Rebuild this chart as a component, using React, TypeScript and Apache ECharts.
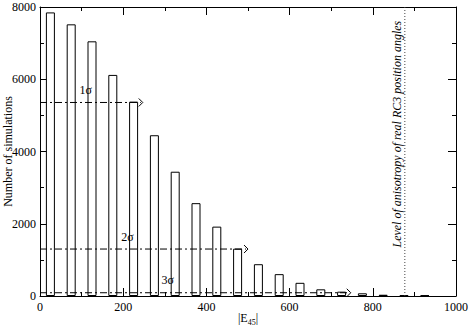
import React, { useEffect, useRef } from "react";
import * as echarts from "echarts";

const binCenters = [25, 75, 125, 175, 225, 275, 325, 375, 425, 475, 525, 575, 625, 675, 725, 775, 825, 875, 925];
const counts = [7850, 7520, 7050, 6120, 5380, 4450, 3440, 2570, 1920, 1310, 880, 605, 365, 185, 120, 75, 35, 20, 20];

const xTicks = { min: 0, max: 1000, interval: 200 };
const yTicks = { min: 0, max: 8000, interval: 2000 };

// sigma levels: [y level, x end (arrow tip), label, label x, label y]
const sigmaLevels: [number, number, string, number, number][] = [
  [5357, 247, "1σ", 110, 5690],
  [1300, 500, "2σ", 210, 1620],
  [90, 747, "3σ", 307, 440],
];

const anisotropyLevel = 877;
const anisotropyLabel = "Level of anisotropy of real RC3 position angles";

const FONT = "Liberation Serif";

export default function App() {
  const ref = useRef<HTMLDivElement>(null);
  useEffect(() => {
    if (!ref.current) return;
    const chart = echarts.init(ref.current, undefined, { renderer: "svg" });
    const axisCommon = {
      type: "value" as const,
      axisLine: { show: true, onZero: false, lineStyle: { color: "#000", width: 1 } },
      axisTick: { show: true, inside: true, length: 8, lineStyle: { color: "#000" } },
      minorTick: { show: true, splitNumber: 2, length: 4, lineStyle: { color: "#000" } },
      splitLine: { show: false },
      minorSplitLine: { show: false },
    };
    const fmt = (v: number) => String(v);
    const option: any = {
      animation: false,
      backgroundColor: "#fff",
      grid: { left: 40, right: 13, top: 7, bottom: 31, containLabel: false, outerBoundsMode: "none" },
      xAxis: [
        {
          ...axisCommon,
          position: "bottom",
          ...xTicks,
          axisLabel: { color: "#000", fontFamily: FONT, fontSize: 12, margin: 5, formatter: fmt },
          name: "|E{sub|45}|",
          nameLocation: "middle",
          nameGap: 14,
          nameMoveOverlap: false,
          nameTextStyle: {
            color: "#000",
            fontFamily: FONT,
            fontSize: 12,
            verticalAlign: "top",
            rich: {
              sub: { fontFamily: FONT, fontSize: 8, color: "#000", padding: [8, 0, 0, 0] },
            },
          },
        },
        {
          ...axisCommon,
          position: "top",
          ...xTicks,
          axisLabel: { show: false },
        },
      ],
      yAxis: [
        {
          ...axisCommon,
          position: "left",
          ...yTicks,
          axisLabel: { color: "#000", fontFamily: FONT, fontSize: 12, lineHeight: 12, margin: 4, formatter: fmt },
          name: "Number of simulations",
          nameLocation: "middle",
          nameGap: 26,
          nameMoveOverlap: false,
          nameTextStyle: { color: "#000", fontFamily: FONT, fontSize: 12 },
        },
        {
          ...axisCommon,
          position: "right",
          ...yTicks,
          axisLabel: { show: false },
        },
      ],
      series: [
        {
          type: "bar",
          xAxisIndex: 0,
          yAxisIndex: 0,
          barWidth: 9,
          data: binCenters.map((x, i) => [x, counts[i]]),
          itemStyle: { color: "#fff", borderColor: "#000", borderWidth: 1 },
          silent: true,
        },
        {
          type: "custom",
          xAxisIndex: 0,
          yAxisIndex: 0,
          data: sigmaLevels,
          renderItem: (params: any, api: any) => {
            const y = api.value(0);
            const xe = api.value(1);
            const p0 = api.coord([0, y]);
            const p1 = api.coord([xe, y]);
            const lp = api.coord([api.value(3), api.value(4)]);
            const label = sigmaLevels[params.dataIndex][2];
            return {
              type: "group",
              children: [
                {
                  type: "line",
                  shape: { x1: p0[0], y1: p0[1], x2: p1[0] - 2, y2: p1[1] },
                  style: { stroke: "#000", lineWidth: 1, lineDash: [7, 3, 2, 3] },
                },
                {
                  type: "polyline",
                  shape: {
                    points: [
                      [p1[0] - 4, p1[1] - 4],
                      [p1[0], p1[1]],
                      [p1[0] - 4, p1[1] + 4],
                    ],
                  },
                  style: { stroke: "#000", lineWidth: 1, fill: "none" },
                },
                {
                  type: "text",
                  x: lp[0],
                  y: lp[1],
                  style: {
                    text: label,
                    fontFamily: FONT,
                    fontSize: 12,
                    fill: "#000",
                    align: "center",
                    verticalAlign: "middle",
                  },
                },
              ],
            };
          },
          silent: true,
          z: 5,
        },
        {
          type: "custom",
          xAxisIndex: 0,
          yAxisIndex: 0,
          data: [[anisotropyLevel]],
          renderItem: (params: any, api: any) => {
            const x = api.value(0);
            const pb = api.coord([x, yTicks.min]);
            const pt = api.coord([x, yTicks.max]);
            const mid = api.coord([x, 4480]);
            return {
              type: "group",
              children: [
                {
                  type: "line",
                  shape: { x1: pb[0], y1: pb[1], x2: pt[0], y2: pt[1] },
                  style: { stroke: "#444", lineWidth: 1, lineDash: [1, 2] },
                },
                {
                  type: "text",
                  x: mid[0] - 8,
                  y: mid[1],
                  rotation: Math.PI / 2,
                  style: {
                    text: anisotropyLabel,
                    fontFamily: FONT,
                    fontStyle: "italic",
                    fontSize: 12,
                    fill: "#000",
                    align: "center",
                    verticalAlign: "middle",
                  },
                },
              ],
            };
          },
          silent: true,
          z: 5,
        },
      ],
    };
    chart.setOption(option);
    return () => chart.dispose();
  }, []);
  return (
    <div
      ref={ref}
      style={{ position: "fixed", left: 0, top: 0, width: 469, height: 327 }}
    />
  );
}
